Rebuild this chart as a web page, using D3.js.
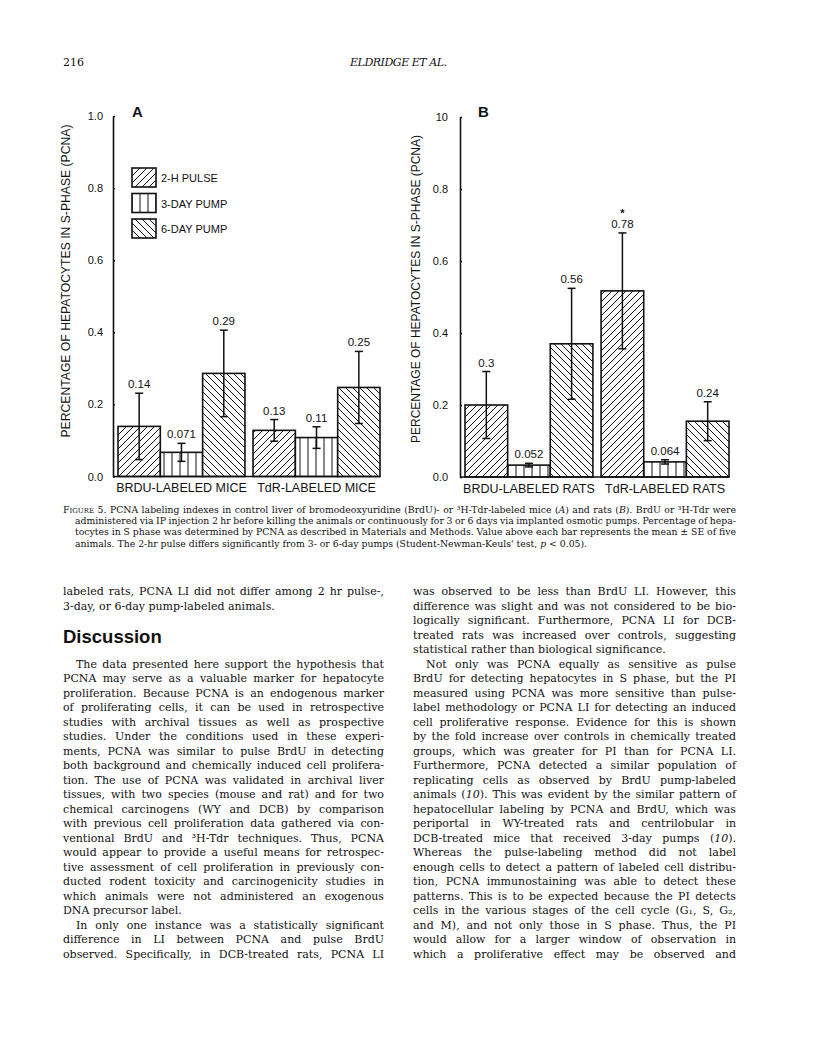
<!DOCTYPE html>
<html>
<head>
<meta charset="utf-8">
<script src="https://cdn.jsdelivr.net/npm/d3@7"></script>
<style>
  body { margin: 0; background: #fff; }
  svg { display: block; }
</style>
</head>
<body>
<svg width="816" height="1043"></svg>
<script>
// ---- chart data ----
const series = ['2-H PULSE', '3-DAY PUMP', '6-DAY PUMP'];
const groupsA = ['BRDU-LABELED MICE', 'TdR-LABELED MICE'];
const groupsB = ['BRDU-LABELED RATS', 'TdR-LABELED RATS'];
const yTicks = [0, 0.2, 0.4, 0.6, 0.8, 1.0];
const tickLabelsA = ['0.0', '0.2', '0.4', '0.6', '0.8', '1.0'];
const tickLabelsB = ['0.0', '0.2', '0.4', '0.6', '0.8', '10'];

// bar heights in group order: [group1 s1, s2, s3, group2 s1, s2, s3]
const meansA = [0.139, 0.067, 0.286, 0.128, 0.108, 0.247];
const seA = [0.092, 0.025, 0.12, 0.03, 0.03, 0.1];
const labelsA = ['0.14', '0.071', '0.29', '0.13', '0.11', '0.25'];

const meansB = [0.2, 0.033, 0.37, 0.517, 0.042, 0.155];
const seB = [0.093, 0.005, 0.154, 0.161, 0.006, 0.054];
const labelsB = ['0.3', '0.052', '0.56', '0.78', '0.064', '0.24'];
const starsB = ['', '', '', '*', '', ''];

const yTitle = 'PERCENTAGE OF HEPATOCYTES IN S-PHASE (PCNA)';

const sans = '"Liberation Sans", Arial, Helvetica, sans-serif';
const serif = '"DejaVu Serif", serif';
const ink = '#111';

const svg = d3.select('svg');
svg.append('rect').attr('width', 816).attr('height', 1043).attr('fill', '#fff');

// hatch patterns
const defs = svg.append('defs');
const patFwd = defs.append('pattern').attr('id', 'hatch-fwd')
    .attr('patternUnits', 'userSpaceOnUse').attr('width', 7).attr('height', 7);
patFwd.append('rect').attr('width', 7).attr('height', 7).attr('fill', '#fff');
patFwd.append('path').attr('d', 'M-1,1 l2,-2 M0,7 l7,-7 M6,8 l2,-2')
    .attr('stroke', ink).attr('stroke-width', 1);

const patVert = defs.append('pattern').attr('id', 'hatch-vert')
    .attr('patternUnits', 'userSpaceOnUse').attr('width', 8).attr('height', 8);
patVert.append('rect').attr('width', 8).attr('height', 8).attr('fill', '#fff');
patVert.append('path').attr('d', 'M4,0 v8').attr('stroke', ink).attr('stroke-width', 1);

const patBack = defs.append('pattern').attr('id', 'hatch-back')
    .attr('patternUnits', 'userSpaceOnUse').attr('width', 7).attr('height', 7);
patBack.append('rect').attr('width', 7).attr('height', 7).attr('fill', '#fff');
patBack.append('path').attr('d', 'M-1,6 l2,2 M0,0 l7,7 M6,-1 l2,2')
    .attr('stroke', ink).attr('stroke-width', 1);

const fills = d3.scaleOrdinal()
    .domain(series)
    .range(['url(#hatch-fwd)', 'url(#hatch-vert)', 'url(#hatch-back)']);

function drawPanel(opt) {
    const g = svg.append('g');

    const y = d3.scaleLinear().domain([0, 1]).range([opt.yBottom, opt.yTop]);
    const xGroup = d3.scaleBand().domain(opt.groups)
        .range([opt.barLeft, opt.barRight]).paddingInner(0.06);
    const xSeries = d3.scaleBand().domain(series).range([0, xGroup.bandwidth()]);

    const rows = [];
    opt.groups.forEach((grp, gi) => {
        series.forEach((s, si) => {
            const i = gi * 3 + si;
            rows.push({ grp: grp, s: s, v: opt.means[i], se: opt.se[i],
                label: opt.labels[i], star: opt.stars ? opt.stars[i] : '' });
        });
    });

    // bars
    g.selectAll('rect.bar').data(rows).join('rect')
        .attr('class', 'bar')
        .attr('x', d => xGroup(d.grp) + xSeries(d.s))
        .attr('y', d => y(d.v))
        .attr('width', xSeries.bandwidth())
        .attr('height', d => y(0) - y(d.v))
        .attr('fill', d => fills(d.s))
        .attr('stroke', ink)
        .attr('stroke-width', 1.6);

    // error bars
    const cx = d => xGroup(d.grp) + xSeries(d.s) + xSeries.bandwidth() / 2;
    const err = g.selectAll('g.err').data(rows).join('g').attr('class', 'err')
        .attr('stroke', ink).attr('stroke-width', 1.5);
    err.append('line')
        .attr('x1', cx).attr('x2', cx)
        .attr('y1', d => y(d.v - d.se)).attr('y2', d => y(d.v + d.se));
    err.append('line')
        .attr('x1', d => cx(d) - 4).attr('x2', d => cx(d) + 4)
        .attr('y1', d => y(d.v + d.se)).attr('y2', d => y(d.v + d.se));
    err.append('line')
        .attr('x1', d => cx(d) - 4).attr('x2', d => cx(d) + 4)
        .attr('y1', d => y(d.v - d.se)).attr('y2', d => y(d.v - d.se));

    // value labels
    g.selectAll('text.val').data(rows).join('text')
        .attr('class', 'val')
        .attr('x', cx)
        .attr('y', d => y(d.v + d.se) - 5)
        .attr('text-anchor', 'middle')
        .style('font-family', sans).style('font-size', '11.5px').attr('fill', ink)
        .text(d => d.label);
    g.selectAll('text.star').data(rows.filter(d => d.star)).join('text')
        .attr('class', 'star')
        .attr('x', cx)
        .attr('y', d => y(d.v + d.se) - 16)
        .attr('text-anchor', 'middle')
        .style('font-family', sans).style('font-size', '11px').style('font-weight', 'bold')
        .attr('fill', ink)
        .text(d => d.star);

    // y axis
    const axis = g.append('g')
        .attr('transform', `translate(${opt.axisX},0)`)
        .call(d3.axisLeft(y).tickValues(yTicks).tickSizeInner(5).tickSizeOuter(0)
            .tickPadding(opt.tickPad).tickFormat((d, i) => opt.tickLabels[i]));
    axis.select('.domain').attr('stroke', ink).attr('stroke-width', 1.6);
    axis.selectAll('.tick line').attr('x2', 2).attr('stroke', ink).attr('stroke-width', 1.4);
    axis.selectAll('.tick text')
        .style('font-family', sans).style('font-size', '11px').attr('fill', ink);

    // baseline
    g.append('line')
        .attr('x1', opt.axisX).attr('x2', opt.barRight)
        .attr('y1', y(0)).attr('y2', y(0))
        .attr('stroke', ink).attr('stroke-width', 1.6);

    // category labels
    const xAxis = g.append('g')
        .attr('transform', `translate(0,${y(0)})`)
        .call(d3.axisBottom(xGroup).tickSize(0).tickPadding(7));
    xAxis.select('.domain').remove();
    xAxis.selectAll('.tick text')
        .style('font-family', sans).style('font-size', '12.5px').attr('fill', ink);

    // y title
    g.append('text')
        .attr('transform', `translate(${opt.titleX},${opt.titleY}) rotate(-90)`)
        .attr('text-anchor', 'middle')
        .attr('textLength', opt.titleLen).attr('lengthAdjust', 'spacingAndGlyphs')
        .style('font-family', sans).style('font-size', '12px').attr('fill', ink)
        .text(yTitle);

    // panel letter
    g.append('text')
        .attr('x', opt.letterX).attr('y', 117)
        .style('font-family', sans).style('font-size', '15px').style('font-weight', 'bold')
        .attr('fill', ink)
        .text(opt.letter);

    return g;
}

const gA = drawPanel({
    groups: groupsA, means: meansA, se: seA, labels: labelsA,
    tickLabels: tickLabelsA, axisX: 113, barLeft: 118, barRight: 380,
    yBottom: 476.5, yTop: 116, tickPad: 5, titleX: 70, titleY: 281, titleLen: 313,
    letter: 'A', letterX: 132
});
drawPanel({
    groups: groupsB, means: meansB, se: seB, labels: labelsB, stars: starsB,
    tickLabels: tickLabelsB, axisX: 460, barLeft: 465, barRight: 729,
    yBottom: 477, yTop: 117, tickPad: 7, titleX: 420, titleY: 289, titleLen: 308,
    letter: 'B', letterX: 478
});

// legend (panel A)
const legend = gA.append('g');
series.forEach((s, i) => {
    const top = 168 + i * 25.5;
    legend.append('rect')
        .attr('x', 132).attr('y', top).attr('width', 24).attr('height', 19)
        .attr('fill', fills(s)).attr('stroke', ink).attr('stroke-width', 1.6);
    legend.append('text')
        .attr('x', 161).attr('y', top + 14)
        .style('font-family', sans).style('font-size', '11px').attr('fill', ink)
        .text(s);
});

// ---- page text ----
function addLine(str, x, y, width, justify, size) {
    const t = svg.append('text').attr('x', x).attr('y', y)
        .style('font-family', serif).style('font-size', size + 'px').attr('fill', ink);
    str.split('_').forEach((part, i) => {
        if (part) t.append('tspan').text(part).style('font-style', i % 2 ? 'italic' : null);
    });
    if (justify) {
        const natural = t.node().getComputedTextLength();
        const spaces = (str.match(/ /g) || []).length;
        if (spaces) t.style('word-spacing', ((width - natural) / spaces) + 'px');
    }
    return t;
}

// running head
addLine('216', 63, 66, 0, false, 11);
addLine('ELDRIDGE ET AL.', 350, 66, 0, false, 11)
    .style('font-style', 'italic').attr('textLength', 97);

// caption
const captionSize = 9.3;
const captionLines = [
    'PCNA labeling indexes in control liver of bromodeoxyuridine (BrdU)- or \u00b3H-Tdr-labeled mice (_A_) and rats (_B_). BrdU or \u00b3H-Tdr were',
    'administered via IP injection 2 hr before killing the animals or continuously for 3 or 6 days via implanted osmotic pumps. Percentage of hepa-',
    'tocytes in S phase was determined by PCNA as described in Materials and Methods. Value above each bar represents the mean \u00b1 SE of five',
    'animals. The 2-hr pulse differs significantly from 3- or 6-day pumps (Student-Newman-Keuls\' test, _p_ < 0.05).'
];
captionLines.forEach((ln, i) => {
    const yy = 513 + i * 11.2;
    if (i === 0) {
        const t = svg.append('text').attr('x', 63).attr('y', yy)
            .style('font-family', serif).style('font-size', captionSize + 'px').attr('fill', ink);
        t.append('tspan').text('Figure 5. ').style('font-variant', 'small-caps');
        ln.split('_').forEach((part, k) => {
            if (part) t.append('tspan').text(part).style('font-style', k % 2 ? 'italic' : null);
        });
        const natural = t.node().getComputedTextLength();
        const spaces = ('Figure 5. ' + ln).match(/ /g).length;
        t.style('word-spacing', ((736 - 63 - natural) / spaces) + 'px');
    } else {
        addLine(ln, 75, yy, 736 - 75, i < 3, captionSize);
    }
});

// body text: [slot, text, justify, indent]
const leftCol = [
    [0, 'labeled rats, PCNA LI did not differ among 2 hr pulse-,', true, 0],
    [1, '3-day, or 6-day pump-labeled animals.', false, 0],
    [5, 'The data presented here support the hypothesis that', true, 13],
    [6, 'PCNA may serve as a valuable marker for hepatocyte', true, 0],
    [7, 'proliferation. Because PCNA is an endogenous marker', true, 0],
    [8, 'of proliferating cells, it can be used in retrospective', true, 0],
    [9, 'studies with archival tissues as well as prospective', true, 0],
    [10, 'studies. Under the conditions used in these experi-', true, 0],
    [11, 'ments, PCNA was similar to pulse BrdU in detecting', true, 0],
    [12, 'both background and chemically induced cell prolifera-', true, 0],
    [13, 'tion. The use of PCNA was validated in archival liver', true, 0],
    [14, 'tissues, with two species (mouse and rat) and for two', true, 0],
    [15, 'chemical carcinogens (WY and DCB) by comparison', true, 0],
    [16, 'with previous cell proliferation data gathered via con-', true, 0],
    [17, 'ventional BrdU and \u00b3H-Tdr techniques. Thus, PCNA', true, 0],
    [18, 'would appear to provide a useful means for retrospec-', true, 0],
    [19, 'tive assessment of cell proliferation in previously con-', true, 0],
    [20, 'ducted rodent toxicity and carcinogenicity studies in', true, 0],
    [21, 'which animals were not administered an exogenous', true, 0],
    [22, 'DNA precursor label.', false, 0],
    [23, 'In only one instance was a statistically significant', true, 13],
    [24, 'difference in LI between PCNA and pulse BrdU', true, 0],
    [25, 'observed. Specifically, in DCB-treated rats, PCNA LI', true, 0]
];
const rightCol = [
    [0, 'was observed to be less than BrdU LI. However, this', true, 0],
    [1, 'difference was slight and was not considered to be bio-', true, 0],
    [2, 'logically significant. Furthermore, PCNA LI for DCB-', true, 0],
    [3, 'treated rats was increased over controls, suggesting', true, 0],
    [4, 'statistical rather than biological significance.', false, 0],
    [5, 'Not only was PCNA equally as sensitive as pulse', true, 13],
    [6, 'BrdU for detecting hepatocytes in S phase, but the PI', true, 0],
    [7, 'measured using PCNA was more sensitive than pulse-', true, 0],
    [8, 'label methodology or PCNA LI for detecting an induced', true, 0],
    [9, 'cell proliferative response. Evidence for this is shown', true, 0],
    [10, 'by the fold increase over controls in chemically treated', true, 0],
    [11, 'groups, which was greater for PI than for PCNA LI.', true, 0],
    [12, 'Furthermore, PCNA detected a similar population of', true, 0],
    [13, 'replicating cells as observed by BrdU pump-labeled', true, 0],
    [14, 'animals (_10_). This was evident by the similar pattern of', true, 0],
    [15, 'hepatocellular labeling by PCNA and BrdU, which was', true, 0],
    [16, 'periportal in WY-treated rats and centrilobular in', true, 0],
    [17, 'DCB-treated mice that received 3-day pumps (_10_).', true, 0],
    [18, 'Whereas the pulse-labeling method did not label', true, 0],
    [19, 'enough cells to detect a pattern of labeled cell distribu-', true, 0],
    [20, 'tion, PCNA immunostaining was able to detect these', true, 0],
    [21, 'patterns. This is to be expected because the PI detects', true, 0],
    [22, 'cells in the various stages of the cell cycle (G\u2081, S, G\u2082,', true, 0],
    [23, 'and M), and not only those in S phase. Thus, the PI', true, 0],
    [24, 'would allow for a larger window of observation in', true, 0],
    [25, 'which a proliferative effect may be observed and', true, 0]
];

const bodySize = 11;
const slotY = k => 595 + 14.5 * k;
leftCol.forEach(([k, s, j, ind]) => addLine(s, 63 + ind, slotY(k), 321 - ind, j, bodySize));
rightCol.forEach(([k, s, j, ind]) => addLine(s, 413 + ind, slotY(k), 323 - ind, j, bodySize));

// section heading
svg.append('text')
    .attr('x', 63).attr('y', 643)
    .style('font-family', sans).style('font-size', '18.5px').style('font-weight', 'bold')
    .attr('fill', ink)
    .text('Discussion');
</script>
</body>
</html>
